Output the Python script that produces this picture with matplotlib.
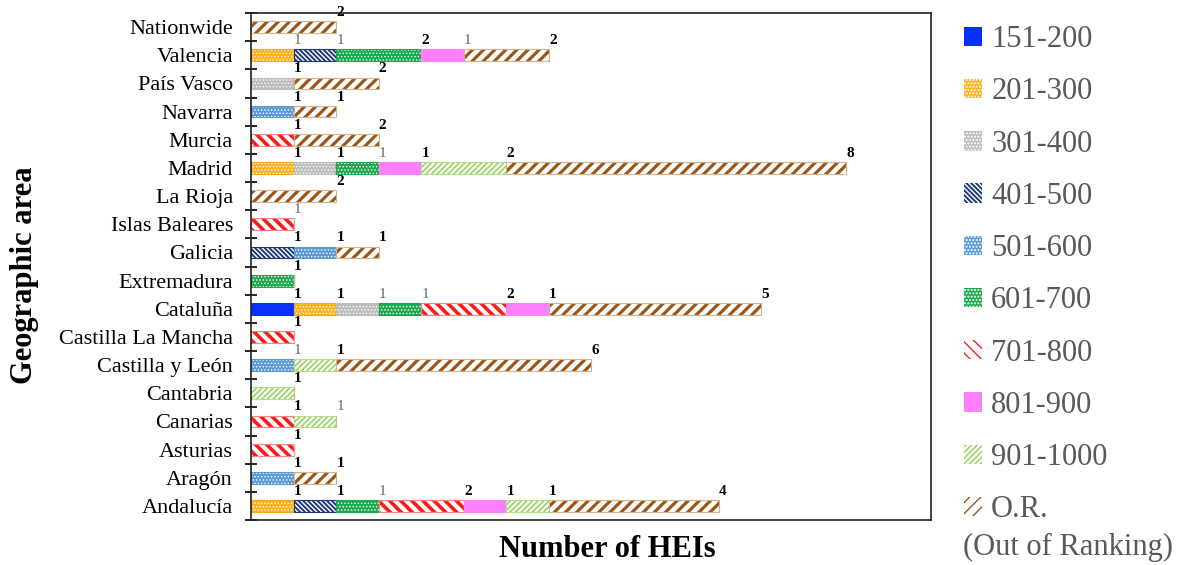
import numpy as np
import matplotlib
matplotlib.use('Agg')
from matplotlib import pyplot as plt
from matplotlib.patches import Patch

plt.rcParams['font.family'] = ['Liberation Serif', 'DejaVu Serif']

# regions, bottom to top
regions = ['Andalucía', 'Aragón', 'Asturias', 'Canarias', 'Cantabria',
           'Castilla y León', 'Castilla La Mancha', 'Cataluña', 'Extremadura',
           'Galicia', 'Islas Baleares', 'La Rioja', 'Madrid', 'Murcia',
           'Navarra', 'País Vasco', 'Valencia', 'Nationwide']
series = ['151-200', '201-300', '301-400', '401-500', '501-600',
          '601-700', '701-800', '801-900', '901-1000', 'O.R.']

r151_200  = [0, 0, 0, 0, 0, 0, 0, 1, 0, 0, 0, 0, 0, 0, 0, 0, 0, 0]
r201_300  = [1, 0, 0, 0, 0, 0, 0, 1, 0, 0, 0, 0, 1, 0, 0, 0, 1, 0]
r301_400  = [0, 0, 0, 0, 0, 0, 0, 1, 0, 0, 0, 0, 1, 0, 0, 1, 0, 0]
r401_500  = [1, 0, 0, 0, 0, 0, 0, 0, 0, 1, 0, 0, 0, 0, 0, 0, 1, 0]
r501_600  = [0, 1, 0, 0, 0, 1, 0, 0, 0, 1, 0, 0, 0, 0, 1, 0, 0, 0]
r601_700  = [1, 0, 0, 0, 0, 0, 0, 1, 1, 0, 0, 0, 1, 0, 0, 0, 2, 0]
r701_800  = [2, 0, 1, 1, 0, 0, 1, 2, 0, 0, 1, 0, 0, 1, 0, 0, 0, 0]
r801_900  = [1, 0, 0, 0, 0, 0, 0, 1, 0, 0, 0, 0, 1, 0, 0, 0, 1, 0]
r901_1000 = [1, 0, 0, 1, 1, 1, 0, 0, 0, 0, 0, 0, 2, 0, 0, 0, 0, 0]
out_rank  = [4, 1, 0, 0, 0, 6, 0, 5, 0, 1, 0, 2, 8, 2, 1, 2, 2, 2]
values = [r151_200, r201_300, r301_400, r401_500, r501_600,
          r601_700, r701_800, r801_900, r901_1000, out_rank]

# labels printed in grey (regular) instead of black bold
grey_labels = {('Valencia', '201-300'), ('Valencia', '401-500'),
               ('Valencia', '801-900'), ('Madrid', '601-700'),
               ('Islas Baleares', '701-800'), ('Cataluña', '301-400'),
               ('Cataluña', '601-700'), ('Castilla y León', '501-600'),
               ('Canarias', '901-1000'), ('Andalucía', '601-700')}

# face, hatch colour, hatch, hatch linewidth, outline
styles = [('#0A2EFF', '#0A2EFF', None, 1.0, '#0A2EFF'),
          ('#FFB21E', 'white', '.....', 0.6, '#F5A623'),
          ('#BDBDBD', 'white', '.....', 0.6, '#BDBDBD'),
          ('#1F3B7A', 'white', '\\' * 7, 1.0, '#1F3B7A'),
          ('#5B9BD5', 'white', '.....', 0.6, '#5B9BD5'),
          ('#1DAA4F', 'white', '.....', 0.6, '#1DAA4F'),
          ('white', '#FF1A1A', '\\\\\\', 2.6, '#FF8080'),
          ('#FF80FF', '#FF80FF', None, 1.0, '#FF80FF'),
          ('white', '#8FD14F', '//////', 1.1, '#B5E08A'),
          ('white', '#9A5518', '///', 2.3, '#D2B48C')]

fig = plt.figure(figsize=(11.79, 5.65), dpi=100)
ax = fig.add_axes([0.2129, 0.0796, 0.5768, 0.8974])

y = np.arange(len(regions))
h = 0.42
left = np.zeros(len(regions))
for s, vals, (fc, hc, hatch, hlw, ec) in zip(series, values, styles):
    vals = np.array(vals, dtype=float)
    with plt.rc_context({'hatch.linewidth': hlw}):
        ax.barh(y, vals, h, left=left, color=fc, edgecolor=hc,
                hatch=hatch, linewidth=0)
    ax.barh(y, vals, h, left=left, fill=False, edgecolor=ec, linewidth=0.8)
    for i, v in enumerate(vals):
        if v > 0:
            end = left[i] + v
            grey = (regions[i], s) in grey_labels
            ax.annotate('%d' % v, (end, y[i] + h / 2), xytext=(3, 1.5),
                        textcoords='offset points', ha='center', va='bottom',
                        fontsize=11, color='#666666' if grey else 'black',
                        fontweight='normal' if grey else 'bold')
    left += vals

ax.set_xlim(0, 16)
ax.set_ylim(-0.5, len(regions) - 0.5)
ax.set_xticks([])
ax.set_yticks(y)
ax.set_yticklabels(regions, fontsize=16)
ax.tick_params(axis='y', which='major', length=0, pad=13)
ax.set_yticks(np.arange(-0.5, len(regions)), minor=True)
ax.tick_params(axis='y', which='minor', direction='inout', length=9, width=1.2)
for sp in ax.spines.values():
    sp.set_linewidth(1.2)
    sp.set_color('#222222')

fig.text(0.021, 0.513, 'Geographic area', fontsize=22, fontweight='bold',
         rotation=90, ha='center', va='center')
fig.text(0.515, 0.014, 'Number of HEIs', fontsize=22, fontweight='bold',
         ha='center', va='baseline')

handles = []
for s, (fc, hc, hatch, hlw, ec) in zip(series, styles):
    with plt.rc_context({'hatch.linewidth': hlw}):
        handles.append(Patch(facecolor=fc, edgecolor=hc, hatch=hatch,
                             linewidth=0))
leg = fig.legend(handles, series, loc='upper left',
                 bbox_to_anchor=(0.807, 0.977), frameon=False, fontsize=22,
                 handlelength=0.6, handleheight=0.6, handletextpad=0.3,
                 labelspacing=0.76, borderaxespad=0)
for t in leg.get_texts():
    t.set_color('#595959')
fig.text(0.8168, 0.005, '(Out of Ranking)', fontsize=22, color='#595959',
         ha='left', va='bottom')

plt.savefig('out.png')
